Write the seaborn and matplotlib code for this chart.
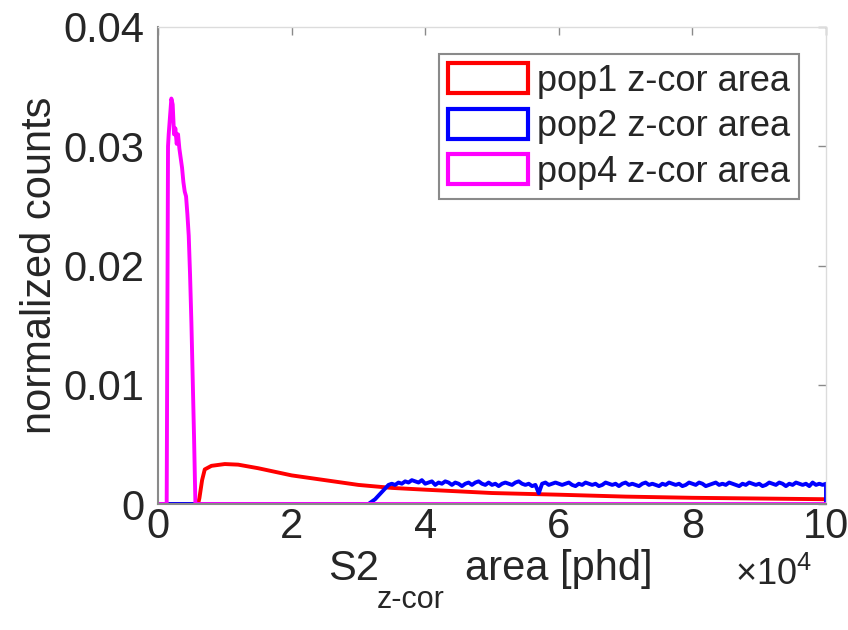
import matplotlib
matplotlib.use("Agg")
import matplotlib.pyplot as plt
from matplotlib.patches import Patch
from matplotlib.ticker import FuncFormatter
import numpy as np
import pandas as pd
import seaborn as sns

# S2 area (z-corrected) histograms, x in phd, y in normalized counts
pop1_x = [0, 6000, 6200, 6600, 7000, 8000, 10000, 12000, 15000, 20000, 25000,
          30000, 35000, 40000, 50000, 60000, 70000, 80000, 90000, 100000]
pop1_y = [0, 0, 0.0005, 0.0020, 0.0029, 0.0032, 0.00335, 0.0033, 0.0030,
          0.0024, 0.0020, 0.0016, 0.00135, 0.0012, 0.00092, 0.00078, 0.00062,
          0.00052, 0.00046, 0.0004]

# pop2: empty below the threshold, rising edge, then 500 phd bins up to 1e5
pop2_lead_x = [0, 31500, 32500, 33500, 34500]
pop2_lead_y = [0, 0, 0.0004, 0.0010, 0.0016]
pop2_bins = np.arange(35000, 100001, 500)
pop2_counts = [
    0.0017, 0.0016, 0.0018, 0.0017, 0.0019, 0.0018, 0.0020, 0.0019, 0.0018, 0.0020,
    0.0017, 0.0018, 0.0019, 0.0016, 0.0018, 0.0017, 0.0019, 0.0018, 0.0016, 0.0018,
    0.0017, 0.0015, 0.0017, 0.0018, 0.0016, 0.0018, 0.0019, 0.0017, 0.0016, 0.0018,
    0.0016, 0.0017, 0.0015, 0.0017, 0.0018, 0.0017, 0.0016, 0.0018, 0.0019, 0.0017,
    0.0016, 0.0017, 0.0015, 0.0016, 0.0009, 0.0017, 0.0018, 0.0016, 0.0017, 0.0018,
    0.0017, 0.0016, 0.0017, 0.0018, 0.0016, 0.0015, 0.0017, 0.0016, 0.0018, 0.0017,
    0.0016, 0.0017, 0.0015, 0.0016, 0.0018, 0.0017, 0.0016, 0.0017, 0.0015, 0.0017,
    0.0018, 0.0016, 0.0017, 0.0016, 0.0015, 0.0017, 0.0018, 0.0016, 0.0017, 0.0016,
    0.0015, 0.0017, 0.0016, 0.0018, 0.0017, 0.0016, 0.0017, 0.0015, 0.0016, 0.0018,
    0.0017, 0.0016, 0.0018, 0.0017, 0.0015, 0.0016, 0.0017, 0.0018, 0.0016, 0.0017,
    0.0016, 0.0018, 0.0017, 0.0016, 0.0015, 0.0017, 0.0016, 0.0018, 0.0017, 0.0016,
    0.0017, 0.0015, 0.0016, 0.0018, 0.0017, 0.0016, 0.0018, 0.0017, 0.0015, 0.0017,
    0.0016, 0.0018, 0.0017, 0.0016, 0.0017, 0.0015, 0.0018, 0.0016, 0.0017, 0.0016,
    0.0017,
]
pop2_tail_x = [100000]
pop2_tail_y = [0]

pop4_x = [0, 1300, 1500, 1600, 1800, 2000, 2200, 2400, 2600, 2800, 3000, 3200,
          3400, 3600, 3800, 4000, 4200, 4400, 4600, 4800, 5000, 5200, 5400, 5600,
          100000]
pop4_y = [0, 0, 0.0300, 0.0310, 0.0325, 0.0340, 0.0335, 0.0310, 0.0315, 0.0302,
          0.0310, 0.0298, 0.0290, 0.0282, 0.0270, 0.0262, 0.0258, 0.0243, 0.0225,
          0.0192, 0.0152, 0.0104, 0.0055, 0, 0]

labels = ["pop1 z-cor area", "pop2 z-cor area", "pop4 z-cor area"]
colors = ["#ff0000", "#0000ff", "#ff00ff"]
x_ticks = [0, 20000, 40000, 60000, 80000, 100000]
y_ticks = [0, 0.01, 0.02, 0.03, 0.04]

sns.set_theme(style="white")
plt.rcParams["font.family"] = ["Liberation Sans", "DejaVu Sans"]
plt.rcParams["mathtext.fontset"] = "custom"
plt.rcParams["mathtext.rm"] = "Liberation Sans"
plt.rcParams["mathtext.it"] = "Liberation Sans:italic"
plt.rcParams["mathtext.bf"] = "Liberation Sans:bold"

TEXT = "#262626"
fig = plt.figure(figsize=(8.48, 6.3), dpi=100)
ax = fig.add_axes([158 / 848, 1 - 504 / 630, (826 - 158) / 848, (504 - 27) / 630])

pop2_x = pop2_lead_x + list(pop2_bins) + pop2_tail_x
pop2_y = pop2_lead_y + pop2_counts + pop2_tail_y

series = [(pop1_x, pop1_y), (pop2_x, pop2_y), (pop4_x, pop4_y)]
for (xs, ys), col in zip(series, colors):
    df = pd.DataFrame({"area": xs, "counts": ys})
    sns.lineplot(data=df, x="area", y="counts", ax=ax, color=col, linewidth=2.8,
                 sort=False, estimator=None, legend=False)

ax.set_xlim(0, 100000)
ax.set_ylim(0, 0.04)
ax.set_xticks(x_ticks)
ax.set_yticks(y_ticks)
ax.xaxis.set_major_formatter(FuncFormatter(lambda v, p: f"{v / 1e4:g}"))
ax.yaxis.set_major_formatter(FuncFormatter(lambda v, p: f"{v:g}"))

ax.tick_params(axis="both", direction="in", length=6, width=1, color="#8a8a8a",
               labelcolor=TEXT, labelsize=30, top=True, right=True)
ax.tick_params(axis="x", pad=2)
ax.tick_params(axis="y", pad=10)

for side in ["left", "bottom"]:
    ax.spines[side].set_color("#8a8a8a")
    ax.spines[side].set_linewidth(1.5)
for side in ["top", "right"]:
    ax.spines[side].set_color("#dcdcdc")
    ax.spines[side].set_linewidth(1.0)

ax.set_xlabel("")
ax.set_ylabel("normalized counts", fontsize=30, color=TEXT, labelpad=2)

# x-axis label with a deep subscript, plus the axis multiplier
fig.text(328 / 848, 1 - 580 / 630, "S2", fontsize=30, color=TEXT, ha="left", va="baseline")
fig.text(377 / 848, 1 - 608 / 630, "z-cor", fontsize=22, color=TEXT, ha="left", va="baseline")
fig.text(465 / 848, 1 - 580 / 630, "area [phd]", fontsize=30, color=TEXT, ha="left", va="baseline")
fig.text(774 / 848, 1 - 575 / 630, r"$\times10^{4}$", fontsize=26, color=TEXT,
         ha="center", va="center")

handles = [Patch(facecolor="white", edgecolor=c, linewidth=3) for c in colors]
leg = ax.legend(handles, labels, loc="upper right", fontsize=26, frameon=True,
                fancybox=False, framealpha=1, edgecolor="#8a8a8a",
                handlelength=2.2, handleheight=0.9, handletextpad=0.25,
                labelspacing=0.28, borderpad=0.25, borderaxespad=0.75)
leg.get_frame().set_linewidth(1.5)
for t in leg.get_texts():
    t.set_color(TEXT)

fig.savefig("out.png", dpi=100)
